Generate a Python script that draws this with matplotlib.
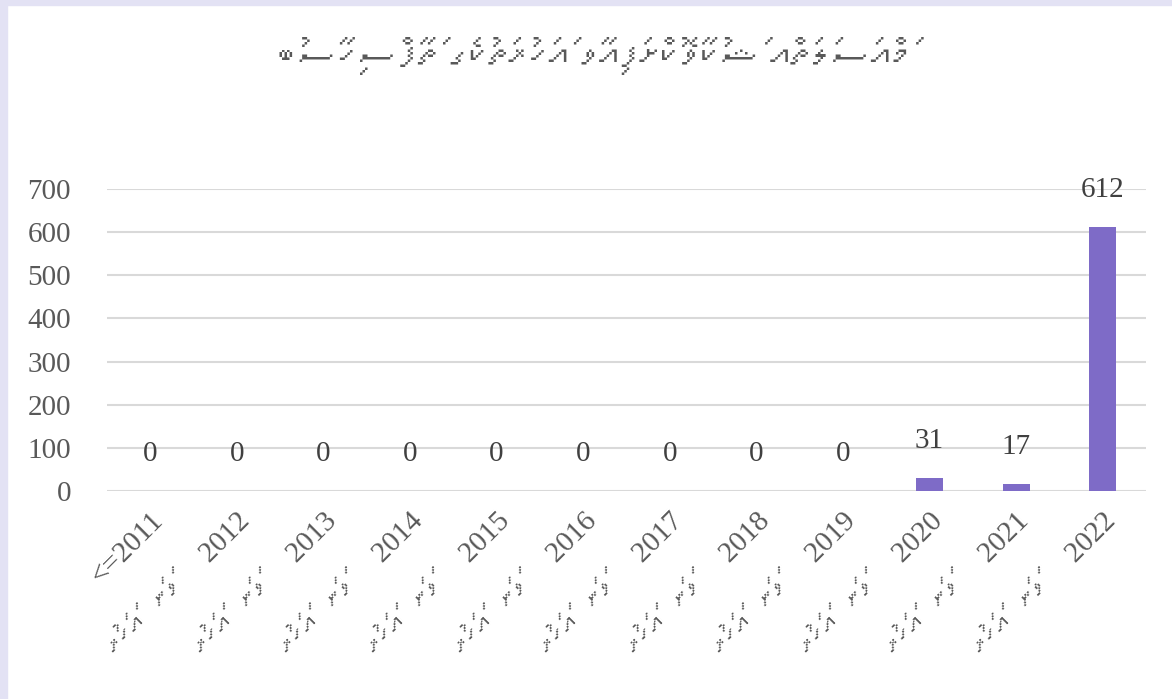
import unicodedata
import matplotlib
matplotlib.use("Agg")
import matplotlib.pyplot as plt
from matplotlib import font_manager
from matplotlib.ft2font import FT2Font
from matplotlib.patches import Rectangle

# data
years = ["2011", "2012", "2013", "2014", "2015", "2016",
         "2017", "2018", "2019", "2020", "2021", "2022"]
counts = [0, 0, 0, 0, 0, 0, 0, 0, 0, 31, 17, 612]
first_label = "<=2011"
year_word = "ވަނަ އަހަރު"
title = "މައްސަލަތައް ޝަކުވާކޮށްފައިވާ އަހަރުތަކުގެ ތަފާސްހިސާބު"


def thaana_font():
    # any installed font that has Thaana letters
    for f in font_manager.fontManager.ttflist:
        try:
            if 0x0780 in FT2Font(f.fname).get_charmap():
                return f.name
        except Exception:
            pass
    return None


def visual(s):
    # matplotlib has no bidi: put Thaana in right-to-left order by hand
    clusters = []
    for ch in s:
        if clusters and unicodedata.category(ch) == "Mn":
            clusters[-1] += ch
        else:
            clusters.append(ch)
    return "".join(reversed(clusters))


tf = thaana_font()
serif = ["Liberation Serif", "DejaVu Serif"]
fam = ["Liberation Serif"] + ([tf] if tf else []) + ["DejaVu Sans"]

grey = "#595959"
fig = plt.figure(figsize=(11.72, 6.99), dpi=100)
ax = fig.add_axes([0.0913, 0.2976, 0.8865, 0.432])

x = list(range(len(years)))
bars = ax.bar(x, counts, width=0.31, color="#7e6bc7", zorder=3)

for xi, v in zip(x, counts):
    ax.annotate(str(v), (xi, v), xytext=(0, 17), textcoords="offset points",
                ha="center", va="bottom", fontsize=21, color="#404040",
                family=serif)

ax.set_xlim(-0.5, len(years) - 0.5)
ax.set_ylim(0, 700)
ax.set_yticks(range(0, 701, 100))
ax.grid(axis="y", color="#d9d9d9", linewidth=1.5, zorder=0)
for s in ax.spines.values():
    s.set_visible(False)
ax.tick_params(axis="both", length=0, labelcolor=grey)
ax.tick_params(axis="y", pad=26)
for lab in ax.get_yticklabels():
    lab.set_family(serif)
    lab.set_fontsize(21)

labels = [first_label] + [visual(year_word).replace(" ", "   ") + "     " + y
                          for y in years[1:]]
ax.set_xticks(x)
ax.set_xticklabels(labels, rotation=45, ha="right", rotation_mode="anchor",
                   fontsize=21, family=fam)
ax.tick_params(axis="x", pad=12)

fig.text(0.507, 0.914, visual(title), ha="center", va="center",
         fontsize=29, color=grey, family=fam)

# light lavender frame of the chart box
fig.patches.append(Rectangle((0, 0), 0.006, 1, transform=fig.transFigure,
                             color="#e3e2f4", zorder=-1))
fig.patches.append(Rectangle((0, 0.993), 1, 0.007, transform=fig.transFigure,
                             color="#e3e2f4", zorder=-1))

fig.savefig("out.png", dpi=100)
